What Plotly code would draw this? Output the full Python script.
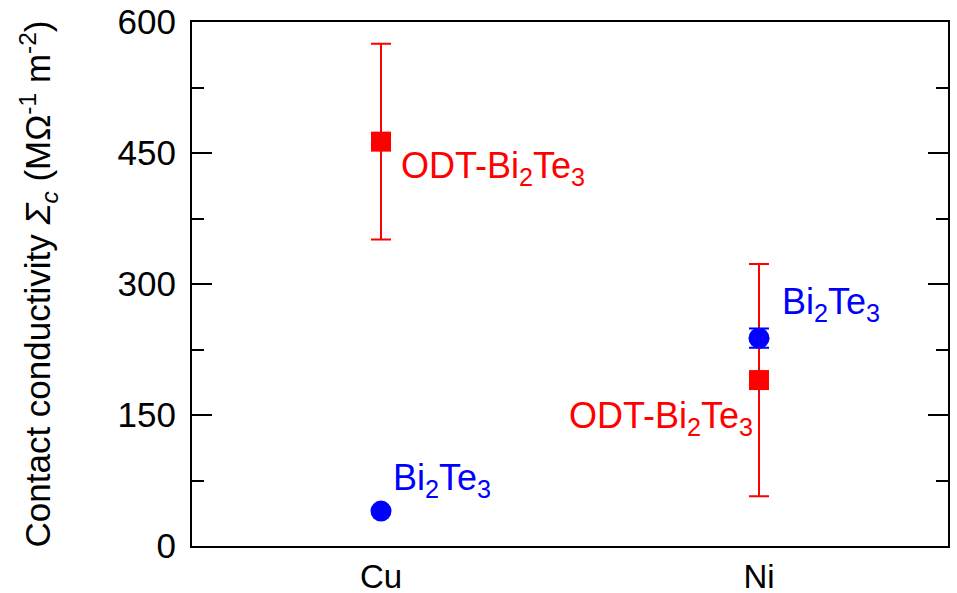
import plotly.graph_objects as go

# Electrode metals on the x axis
metals = ["Cu", "Ni"]
metal_pos = [0, 1]

# Contact conductivity (MΩ^-1 m^-2) and error (±)
odt_values = [463, 190]
odt_errors = [112, 133]
bare_values = [40, 238]
bare_errors = [0, 11]

y_ticks = [0, 150, 300, 450, 600]

RED = "#ff0000"
BLUE = "#0000ff"
FONT = "Liberation Sans, Arial, sans-serif"
LABEL_SIZE = 36

fig = go.Figure()

fig.add_trace(go.Scatter(
    x=metal_pos, y=odt_values, mode="markers",
    marker=dict(symbol="square", size=20, color=RED),
    error_y=dict(type="data", array=odt_errors, visible=True,
                 color=RED, thickness=2, width=10),
    showlegend=False,
))

fig.add_trace(go.Scatter(
    x=metal_pos, y=bare_values, mode="markers",
    marker=dict(symbol="circle", size=21, color=BLUE),
    error_y=dict(type="data", array=bare_errors, visible=True,
                 color=BLUE, thickness=2, width=10),
    showlegend=False,
))

odt_label = "ODT-Bi<sub>2</sub>Te<sub>3</sub>"
bare_label = "Bi<sub>2</sub>Te<sub>3</sub>"

# Point labels: (x, y, text, colour, anchor, xshift, yshift)
labels = [
    (metal_pos[0], odt_values[0], odt_label, RED, "left", 18, -26),
    (metal_pos[1], odt_values[1], odt_label, RED, "right", -4, -38),
    (metal_pos[0], bare_values[0], bare_label, BLUE, "left", 10, 31),
    (metal_pos[1], bare_values[1], bare_label, BLUE, "left", 21, 34),
]
for x, y, text, color, anchor, dx, dy in labels:
    fig.add_annotation(
        x=x, y=y, text=text, showarrow=False,
        xanchor=anchor, yanchor="middle", xshift=dx, yshift=dy,
        font=dict(family=FONT, size=LABEL_SIZE, color=color),
    )

fig.update_layout(
    width=957, height=593,
    margin=dict(l=192, r=9, t=22, b=47),
    paper_bgcolor="white", plot_bgcolor="white",
    font=dict(family=FONT, size=34, color="black"),
)

fig.update_xaxes(
    range=[-0.5, 1.5], tickvals=metal_pos, ticktext=metals,
    showgrid=False, zeroline=False, ticks="", automargin=False,
    showline=True, linecolor="black", linewidth=2, mirror=True,
    tickfont=dict(size=33),
)

fig.update_yaxes(
    range=[0, 600], tickvals=y_ticks,
    showgrid=False, zeroline=False, automargin=False,
    ticks="inside", ticklen=20, tickwidth=2, tickcolor="black",
    minor=dict(dtick=75, ticks="inside", ticklen=12, tickwidth=2, tickcolor="black"),
    showline=True, linecolor="black", linewidth=2, mirror="ticks",
    tickfont=dict(size=35), ticklabelstandoff=7,
    title=dict(
        text="Contact conductivity <i>Σ<sub>c</sub></i> (MΩ<sup>-1</sup> m<sup>-2</sup>)",
        font=dict(size=35), standoff=56,
    ),
)

fig.write_html("out.html")
